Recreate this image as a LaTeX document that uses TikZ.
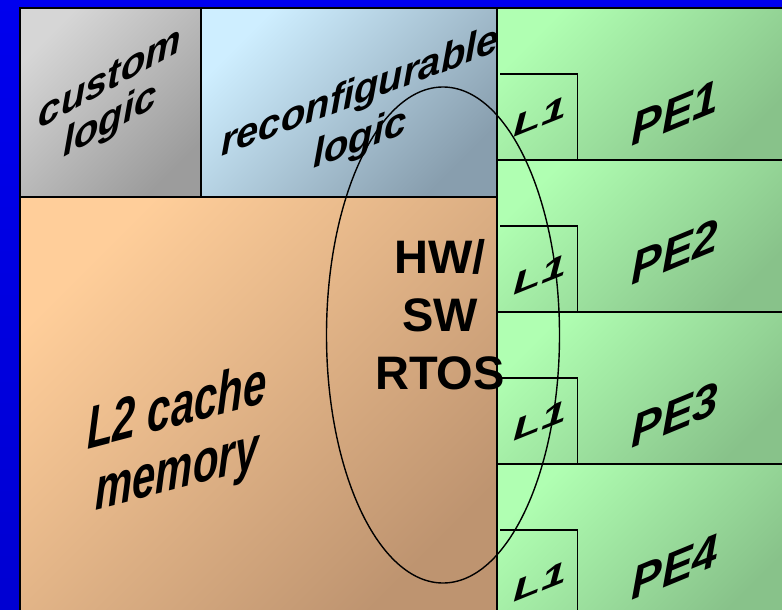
\documentclass[tikz,border=0pt]{standalone}
\usepackage{fontspec}
\setmainfont{Liberation Sans}
\usetikzlibrary{positioning,shapes.geometric}

\definecolor{bgblueA}{RGB}{0,0,238}
\definecolor{bgblueB}{RGB}{0,0,210}
\definecolor{grayA}{RGB}{214,214,214}
\definecolor{grayB}{RGB}{156,156,156}
\definecolor{cyanA}{RGB}{206,238,255}
\definecolor{cyanB}{RGB}{136,158,174}
\definecolor{peachA}{RGB}{255,206,154}
\definecolor{peachB}{RGB}{190,148,112}
\definecolor{mintA}{RGB}{176,255,178}
\definecolor{mintB}{RGB}{136,194,138}

\begin{document}
\begin{tikzpicture}[x=1pt, y=-1pt,
    blk/.style={draw=black, line width=1.6pt, anchor=north west, inner sep=0pt, outer sep=0pt},
    grad/.style 2 args={top color=#1, bottom color=#2, shading angle=45},
    lbl/.style={align=center, inner sep=0pt, text=black},
    wordart/.style 2 args={lbl, font=\bfseries\itshape\fontsize{#1}{#2}\selectfont}]
  % background and frame
  \useasboundingbox (0,0) rectangle (782,610);
  \shade[top color=bgblueA, bottom color=bgblueB] (0,0) rectangle (782,610);

  % blocks
  \node[blk, grad={grayA}{grayB}, minimum width=181pt, minimum height=189pt] (custom) at (20,8) {};
  \node[blk, grad={cyanA}{cyanB}, minimum width=296pt, minimum height=189pt] (reconf) at (201,8) {};
  \node[blk, grad={peachA}{peachB}, minimum width=477pt, minimum height=420pt] (l2) at (20,197) {};
  \foreach \i/\top in {1/8, 2/160, 3/312, 4/464} {
    \node[blk, grad={mintA}{mintB}, minimum width=290pt, minimum height=152pt] (pe\i) at (497,\top) {};
    \node[anchor=north west, inner sep=0pt, minimum width=77pt, minimum height=86pt] (l1\i) at (500,\top+66) {};
    \draw[line width=1.3pt] (l1\i.north west) -- (l1\i.north east) -- (l1\i.south east);
  }

  % labels
  \node[wordart={40}{42}, yslant=0.55] (customtxt) at (110,102) {custom\\logic};
  \node[wordart={40}{47}, yslant=0.38] (reconftxt) at (360,117) {reconfigurable\\logic};
  \node[wordart={60}{63}, yslant=0.26, xscale=0.7] (l2txt) at (177,442) {L2 cache\\memory};
  \foreach \i/\py/\ly in {1/113/117, 2/252/275, 3/415/421, 4/567/582} {
    \node[wordart={46}{50}, yslant=0.41] (pe\i txt) at (675,\py) {PE\i};
    \node[wordart={30}{34}, yslant=0.4, xscale=1.5] (l1\i txt) at (540,\ly) {L1};
  }

  % RTOS region
  \node[draw, ellipse, line width=1.4pt, minimum width=233pt, minimum height=496pt, inner sep=0pt] (rtos) at (443,335) {};
  \node[lbl, font=\bfseries\fontsize{47}{58}\selectfont] (rtostxt) at (440,315) {HW/\\SW\\RTOS};
\end{tikzpicture}
\end{document}
